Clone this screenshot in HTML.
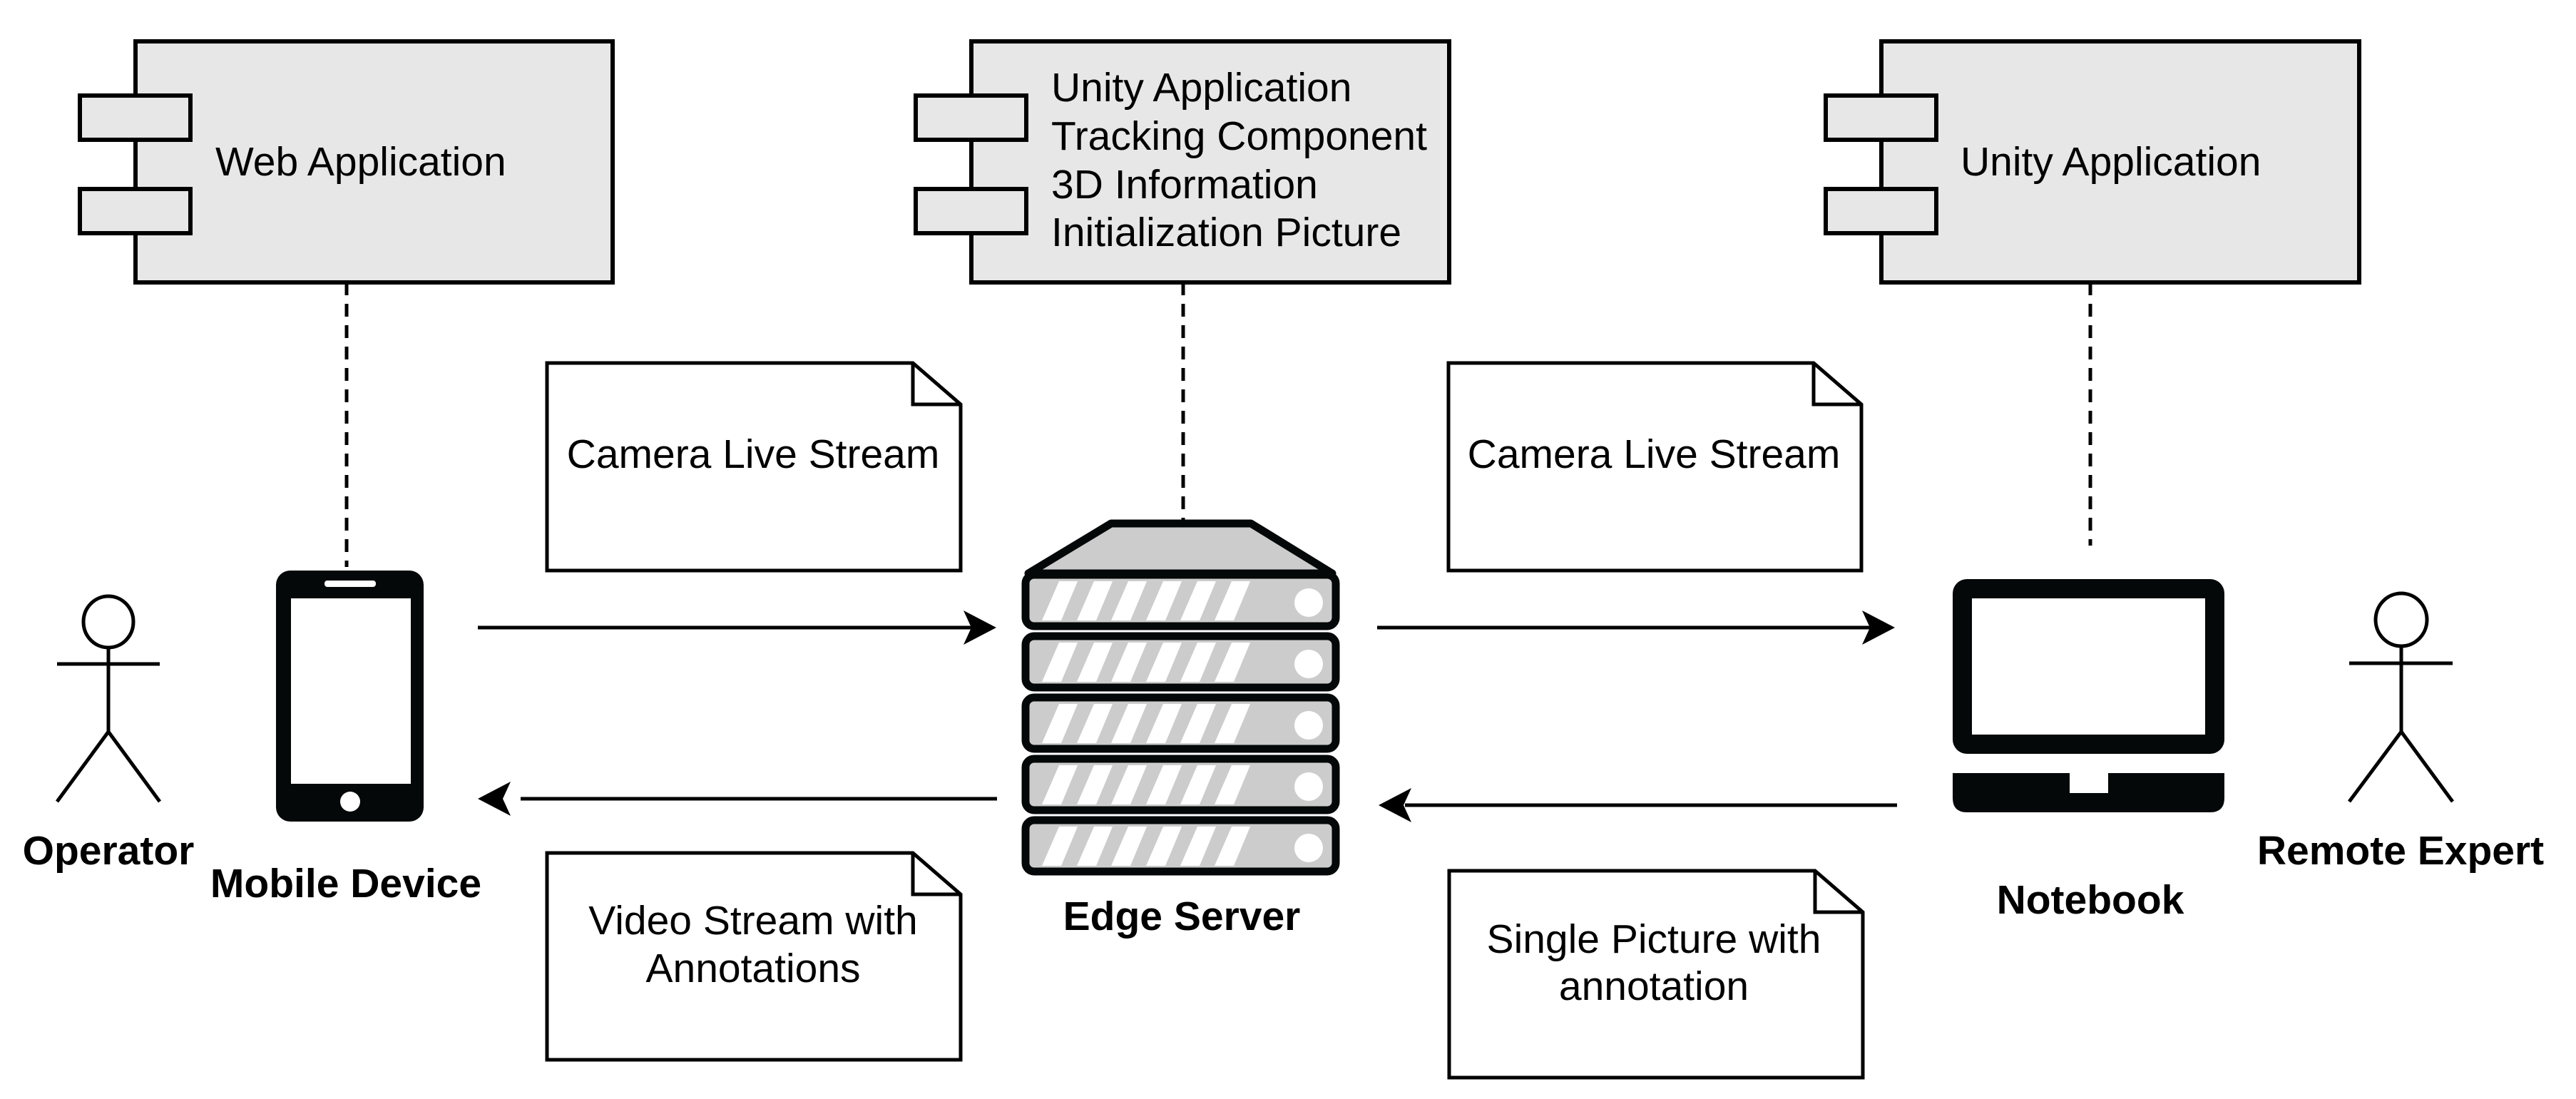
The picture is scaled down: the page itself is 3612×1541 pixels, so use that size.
<!DOCTYPE html>
<html><head><meta charset="utf-8"><style>html,body{margin:0;padding:0;background:#fff}svg{display:block}</style></head><body>
<svg width="3612" height="1541" viewBox="0 0 3612 1541" xmlns="http://www.w3.org/2000/svg" font-family="Liberation Sans, sans-serif">
<defs>
<g id="unit">
<rect x="1438" y="0" width="435" height="72" rx="12" fill="#ccc" stroke="#050808" stroke-width="11"/>
<g fill="#fff">
<polygon points="1461,64 1488,64 1511,9 1485,9"/>
<polygon points="1510,64 1537,64 1560,9 1534,9"/>
<polygon points="1558,64 1585,64 1608,9 1582,9"/>
<polygon points="1607,64 1634,64 1657,9 1631,9"/>
<polygon points="1655,64 1682,64 1705,9 1679,9"/>
<polygon points="1703,64 1730,64 1753,9 1727,9"/>
<circle cx="1835" cy="39" r="20"/>
</g>
</g>
</defs>
<g stroke="#000" stroke-width="6" fill="#e6e7e6">
<rect x="190" y="58" width="669" height="338"/>
<rect x="112" y="134" width="155" height="62"/>
<rect x="112" y="265" width="155" height="62"/>
<rect x="1362" y="58" width="670" height="338"/>
<rect x="1284" y="134" width="155" height="62"/>
<rect x="1284" y="265" width="155" height="62"/>
<rect x="2638" y="58" width="670" height="338"/>
<rect x="2560" y="134" width="155" height="62"/>
<rect x="2560" y="265" width="155" height="62"/>
</g>
<g font-size="57" fill="#000">
<text x="302" y="246">Web Application</text>
<text x="1474" y="142">Unity Application</text>
<text x="1474" y="210">Tracking Component</text>
<text x="1474" y="278">3D Information</text>
<text x="1474" y="345">Initialization Picture</text>
<text x="2749" y="246">Unity Application</text>
</g>
<g stroke="#000" stroke-width="5" stroke-dasharray="18,12">
<line x1="486" y1="396" x2="486" y2="795"/>
<line x1="1659" y1="396" x2="1659" y2="730"/>
<line x1="2931" y1="396" x2="2931" y2="765"/>
</g>
<g stroke="#000" stroke-width="5" fill="#fff">
<path d="M767,509 H1280 L1347,567 V800 H767 Z"/><path d="M1280,509 V567 H1347" fill="none"/>
<path d="M2031,509 H2543 L2610,567 V800 H2031 Z"/><path d="M2543,509 V567 H2610" fill="none"/>
<path d="M767,1196 H1280 L1347,1254 V1486 H767 Z"/><path d="M1280,1196 V1254 H1347" fill="none"/>
<path d="M2032,1221 H2545 L2612,1279 V1511 H2032 Z"/><path d="M2545,1221 V1279 H2612" fill="none"/>
</g>
<g font-size="57" fill="#000" text-anchor="middle">
<text x="1056" y="656">Camera Live Stream</text>
<text x="2319" y="656">Camera Live Stream</text>
<text x="1056" y="1310">Video Stream with</text>
<text x="1056" y="1377">Annotations</text>
<text x="2319" y="1336">Single Picture with</text>
<text x="2319" y="1402">annotation</text>
</g>
<g stroke="#000" stroke-width="5">
<line x1="670" y1="880" x2="1370" y2="880"/>
<line x1="730" y1="1120" x2="1398" y2="1120"/>
<line x1="1931" y1="880" x2="2630" y2="880"/>
<line x1="1970" y1="1129" x2="2660" y2="1129"/>
</g>
<g fill="#000">
<polygon points="1397,880 1351,856 1362,880 1351,904"/>
<polygon points="670,1120 716,1096 705,1120 716,1144"/>
<polygon points="2657,880 2611,856 2622,880 2611,904"/>
<polygon points="1933,1129 1979,1105 1968,1129 1979,1153"/>
</g>
<!-- server -->
<polygon points="1558,734 1754,734 1868,804 1442,804" fill="#ccc" stroke="#050808" stroke-width="11" stroke-linejoin="round"/>
<use href="#unit" y="806"/>
<use href="#unit" y="892"/>
<use href="#unit" y="978"/>
<use href="#unit" y="1064"/>
<use href="#unit" y="1150"/>
<!-- phone -->
<rect x="387" y="800" width="207" height="352" rx="20" fill="#050808"/>
<rect x="408" y="839" width="168" height="260" fill="#fff"/>
<rect x="455" y="814" width="72" height="9" rx="4" fill="#fff"/>
<circle cx="491" cy="1124" r="14" fill="#fff"/>
<!-- laptop -->
<rect x="2738" y="812" width="381" height="245" rx="20" fill="#050808"/>
<rect x="2765" y="839" width="327" height="191" fill="#fff"/>
<path d="M2738,1084 H2902 V1112 H2956 V1084 H3119 V1119 Q3119,1139 3099,1139 H2758 Q2738,1139 2738,1119 Z" fill="#050808"/>
<!-- actors -->
<g stroke="#000" stroke-width="5" fill="#fff">
<ellipse cx="152" cy="872" rx="35" ry="36"/>
<line x1="152" y1="908" x2="152" y2="1026"/>
<line x1="80" y1="931" x2="224" y2="931"/>
<polyline points="80,1124 152,1026 224,1124" fill="none"/>
<ellipse cx="3367" cy="869" rx="36" ry="37"/>
<line x1="3367" y1="906" x2="3367" y2="1026"/>
<line x1="3294" y1="930" x2="3439" y2="930"/>
<polyline points="3294,1124 3367,1026 3439,1124" fill="none"/>
</g>
<g font-size="57" font-weight="bold" fill="#000" text-anchor="middle">
<text x="152" y="1212">Operator</text>
<text x="485" y="1258">Mobile Device</text>
<text x="1657" y="1304">Edge Server</text>
<text x="2931" y="1281">Notebook</text>
<text x="3366" y="1212">Remote Expert</text>
</g>
</svg>
</body></html>
